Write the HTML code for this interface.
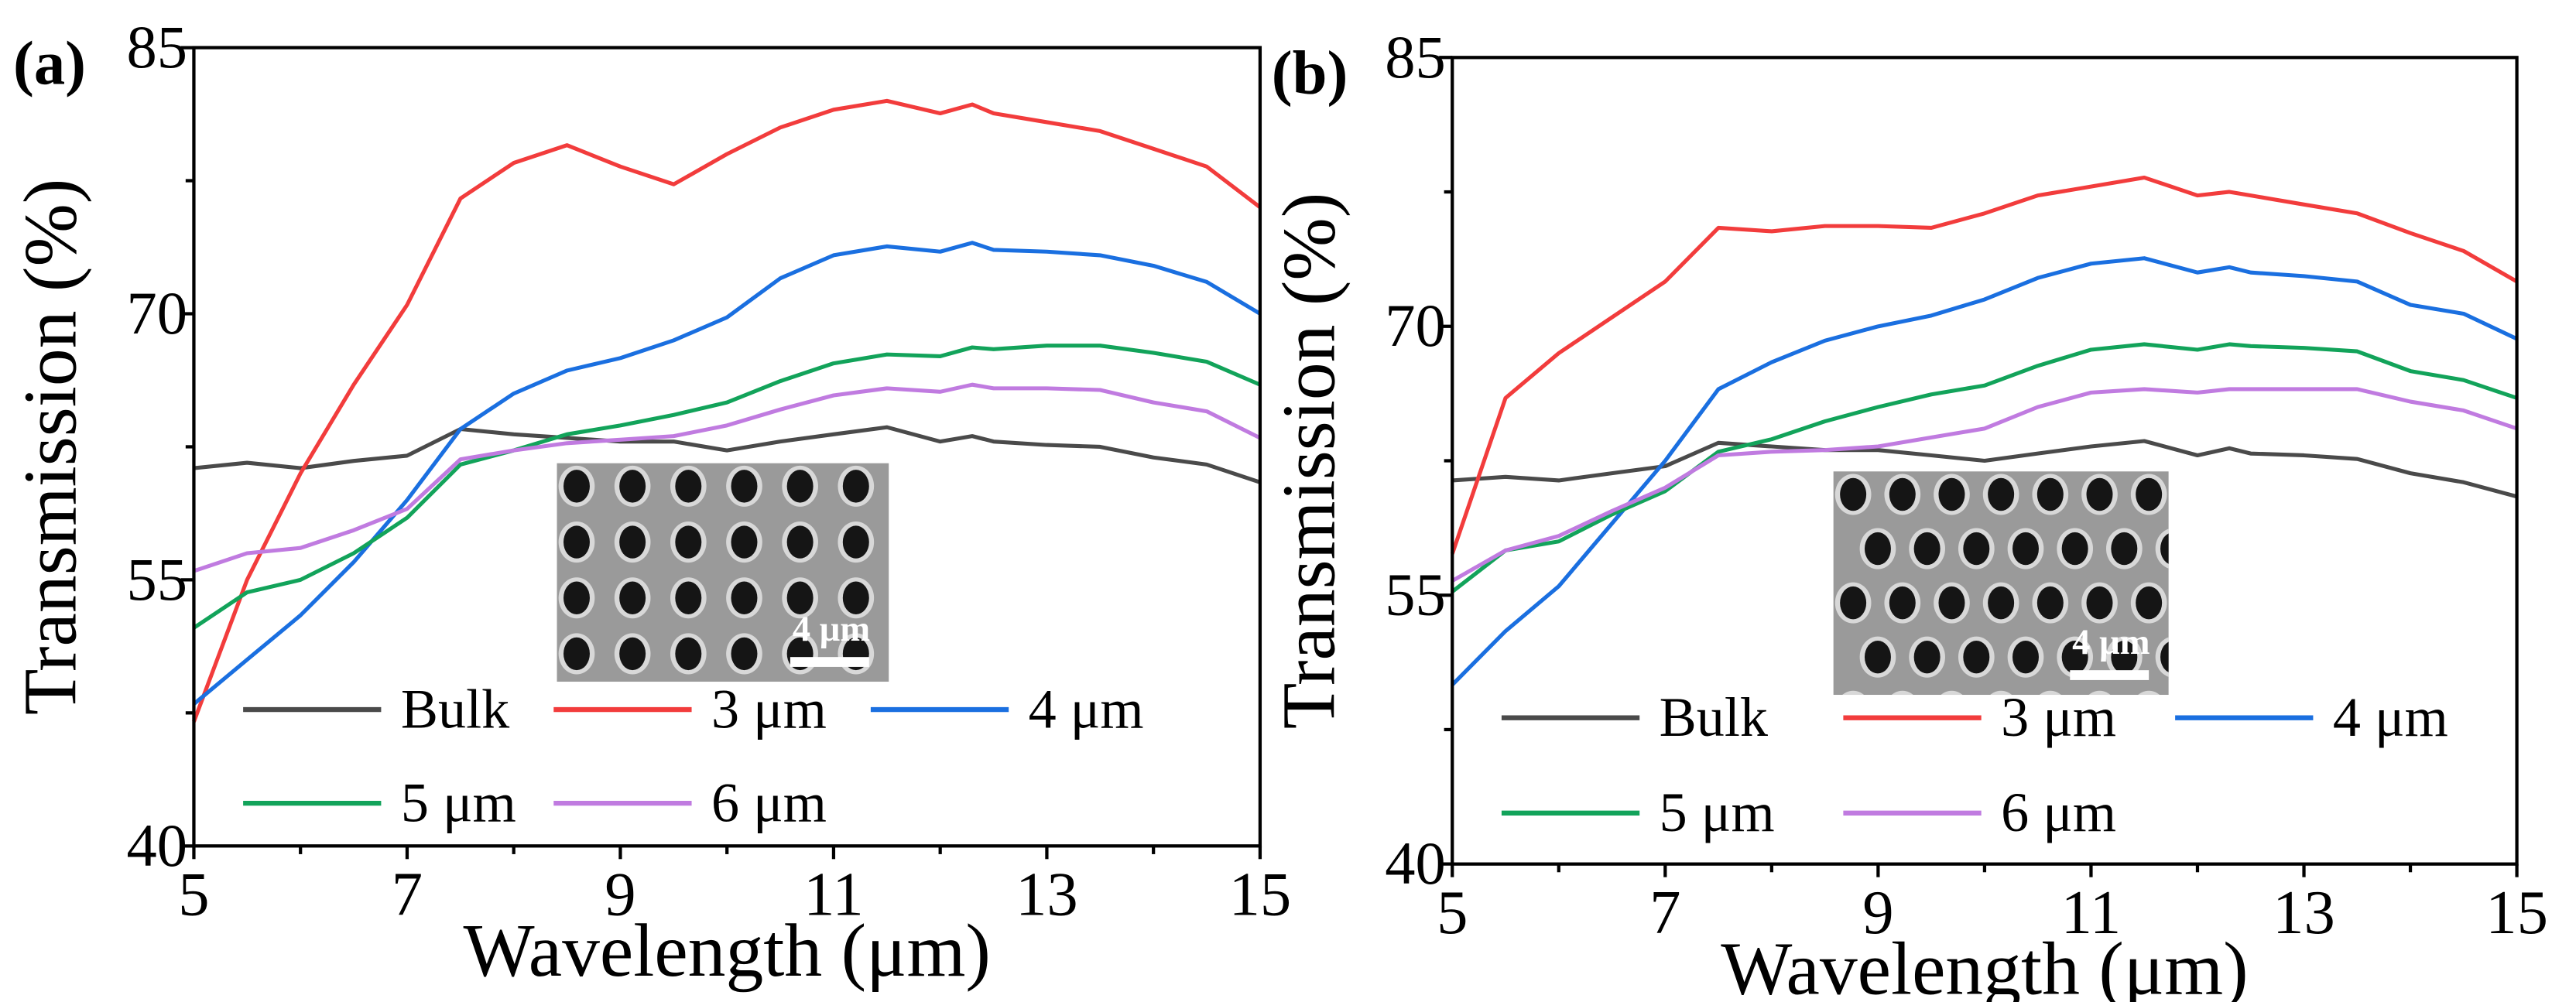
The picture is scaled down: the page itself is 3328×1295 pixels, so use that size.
<!DOCTYPE html>
<html><head><meta charset="utf-8"><style>
html,body{margin:0;padding:0;background:#fff;}
svg{display:block;font-family:"Liberation Serif",serif;}
</style></head><body>
<svg id="fig" width="3328" height="1295" viewBox="0 0 1568 610" preserveAspectRatio="none" xmlns="http://www.w3.org/2000/svg"></svg>
<script>
const wavelengths = [5,5.5,6,6.5,7,7.5,8,8.5,9,9.5,10,10.5,11,11.5,12,12.3,12.5,13,13.5,14,14.5,15];
const seriesNames = ["Bulk","3 μm","4 μm","5 μm","6 μm"];
const aBulk = [61.3,61.6,61.3,61.7,62.0,63.5,63.2,63.0,62.8,62.8,62.3,62.8,63.2,63.6,62.8,63.1,62.8,62.6,62.5,61.9,61.5,60.5];
const a3um = [47,55,61,66,70.5,76.5,78.5,79.5,78.3,77.3,79,80.5,81.5,82.0,81.3,81.8,81.3,80.8,80.3,79.3,78.3,76];
const a4um = [48,50.5,53,56,59.5,63.5,65.5,66.8,67.5,68.5,69.8,72,73.3,73.8,73.5,74,73.6,73.5,73.3,72.7,71.8,70];
const a5um = [52.3,54.3,55,56.5,58.5,61.5,62.3,63.2,63.7,64.3,65,66.2,67.2,67.7,67.6,68.1,68,68.2,68.2,67.8,67.3,66];
const a6um = [55.5,56.5,56.8,57.8,59,61.8,62.3,62.7,62.9,63.1,63.7,64.6,65.4,65.8,65.6,66,65.8,65.8,65.7,65,64.5,63];
const bBulk = [61.4,61.6,61.4,61.8,62.2,63.5,63.3,63.1,63.1,62.8,62.5,62.9,63.3,63.6,62.8,63.2,62.9,62.8,62.6,61.8,61.3,60.5];
const b3um = [57.3,66,68.5,70.5,72.5,75.5,75.3,75.6,75.6,75.5,76.3,77.3,77.8,78.3,77.3,77.5,77.3,76.8,76.3,75.2,74.2,72.5];
const b4um = [50,53,55.5,59,62.5,66.5,68,69.2,70,70.6,71.5,72.7,73.5,73.8,73,73.3,73,72.8,72.5,71.2,70.7,69.3];
const b5um = [55.2,57.5,58,59.5,60.8,63,63.7,64.7,65.5,66.2,66.7,67.8,68.7,69,68.7,69,68.9,68.8,68.6,67.5,67,66];
const b6um = [55.8,57.5,58.3,59.7,61,62.8,63,63.1,63.3,63.8,64.3,65.5,66.3,66.5,66.3,66.5,66.5,66.5,66.5,65.8,65.3,64.3];
const xTicks = [5,7,9,11,13,15];
const xMinor = [6,8,10,12,14];
const yTicks = [40,55,70,85];
const yMinor = [47.5,62.5,77.5];
const colors = ["#4a4a4a","#f23c3c","#1a6fe0","#12a35a","#c07be0"];

const NS="http://www.w3.org/2000/svg";
const svg=document.getElementById('fig');
function mk(tag,attrs,parent){const e=document.createElementNS(NS,tag);for(const k in attrs)e.setAttribute(k,attrs[k]);(parent||svg).appendChild(e);return e;}

function panel(id,L,R,T,B,data,label,legY,legX,inset,hex){
  const g=mk('g',{});
  
  
  const xs=v=>L+(v-5)/10*(R-L);
  const ys=v=>B-(v-40)/45*(B-T);
  const ig=mk('g',{},g);
  
  
  mk('rect',{x:inset[0],y:inset[1],width:inset[2],height:inset[3],fill:'#9a9a9a'},ig);
  const clip=mk('clipPath',{id:'clip'+id},ig);
  mk('rect',{x:inset[0],y:inset[1],width:inset[2],height:inset[3]},clip);
  const hg=mk('g',{'clip-path':'url(#clip'+id+')'},ig);
  const px=hex?30:34,py=hex?33:34;
  for(let r=0;r<5;r++){for(let c=0;c<8;c++){
    const cx=inset[0]+12+c*px+(hex&&r%2?px/2:0), cy=inset[1]+14+r*py;
    const h1=mk('ellipse',{cx:cx,cy:cy,rx:11,ry:12.5,fill:'#d8d8d8'},hg);
    
    
    const h2=mk('ellipse',{cx:cx,cy:cy,rx:8,ry:10,fill:'#151515'},hg);
    
    
  }}
  const sbt=mk('text',{x:inset[0]+inset[2]-35,y:inset[1]+inset[3]-25,fill:'#fff','font-size':22,'font-weight':'bold','text-anchor':'middle'},ig);
  sbt.textContent='4 μm';
  
  
  const sb=mk('rect',{x:inset[0]+inset[2]-60,y:inset[1]+inset[3]-15,width:48,height:6,fill:'#fff'},ig);
  
  
  data.forEach((arr,i)=>{
    const d=arr.map((v,j)=>(j?'L':'M')+xs(wavelengths[j]).toFixed(1)+','+ys(v).toFixed(1)).join(' ');
    const p=mk('path',{d:d,fill:'none',stroke:colors[i],'stroke-width':2.4,'stroke-linejoin':'round'},g);
    
    
  });
  const fr=mk('rect',{x:L,y:T,width:R-L,height:B-T,fill:'none',stroke:'#000','stroke-width':2},g);
  
  
  xTicks.forEach(v=>{
    mk('line',{x1:xs(v),x2:xs(v),y1:B,y2:B+8,stroke:'#000','stroke-width':2},g);
    const t=mk('text',{x:xs(v),y:B+42,'font-size':38,'text-anchor':'middle'},g);
    t.textContent=v;
    
    
  });
  xMinor.forEach(v=>mk('line',{x1:xs(v),x2:xs(v),y1:B,y2:B+5,stroke:'#000','stroke-width':2},g));
  yTicks.forEach(v=>{
    mk('line',{x1:L-8,x2:L,y1:ys(v),y2:ys(v),stroke:'#000','stroke-width':2},g);
    const t=mk('text',{x:L-4,y:ys(v)+12,'font-size':37,'text-anchor':'end'},g);
    t.textContent=v;
    
    
  });
  yMinor.forEach(v=>mk('line',{x1:L-5,x2:L,y1:ys(v),y2:ys(v),stroke:'#000','stroke-width':2},g));
  const xt=mk('text',{x:(L+R)/2,y:B+79,'font-size':46,'text-anchor':'middle'},g);
  xt.textContent='Wavelength (μm)';
  
  
  const yt=mk('text',{x:0,y:0,'font-size':46,'text-anchor':'middle',transform:'translate('+(L-72)+','+((T+B)/2)+') rotate(-90)'},g);
  yt.textContent='Transmission (%)';
  
  
  const pl=mk('text',{x:L-110,y:T+22,'font-size':38,'font-weight':'bold'},g);
  pl.textContent=label;
  
  
  const pos=[[0,0],[1,0],[2,0],[0,1],[1,1]];
  seriesNames.forEach((n,i)=>{
    const lx=legX[pos[i][0]], ly=legY[pos[i][1]];
    const lg=mk('g',{},g);
    
    
    mk('line',{x1:lx,x2:lx+84,y1:ly,y2:ly,stroke:colors[i],'stroke-width':3},lg);
    const t=mk('text',{x:lx+96,y:ly+11,'font-size':34},lg);
    t.textContent=n;
  });
}
panel('a',118,767,29,515,[aBulk,a3um,a4um,a5um,a6um],'(a)',[432,489],[148,337,530],[339,282,202,133],false);
panel('b',884,1532,35,526,[bBulk,b3um,b4um,b5um,b6um],'(b)',[437,495],[914,1122,1324],[1116,287,204,136],true);
</script>
</body></html>
